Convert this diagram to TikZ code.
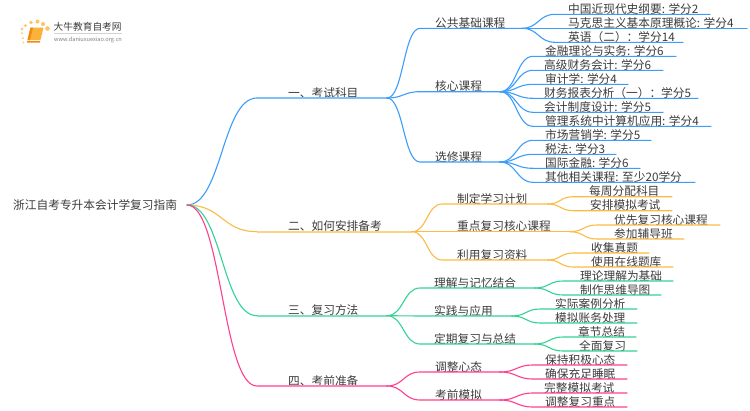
\documentclass[tikz,border=0pt]{standalone}
\usepackage{fontspec}
\setmainfont{Noto Sans CJK SC}
\usetikzlibrary{calc}
\definecolor{cblue}{HTML}{3D9DFB}
\definecolor{corange}{HTML}{FBBB45}
\definecolor{cgreen}{HTML}{35D296}
\definecolor{cpink}{HTML}{FF3F8E}
\definecolor{ctext}{HTML}{3C3C3C}
\definecolor{bookl}{HTML}{FBB23A}
\definecolor{bookd}{HTML}{F08A12}
\tikzset{
  lbl/.style={anchor=base west,inner sep=0pt,text=ctext,font=\fontsize{11.7}{13}\selectfont},
  wire/.style={line width=1.1pt,line cap=round},
  logotxt/.style={anchor=base west,inner sep=0pt,text=ctext},
  sun/.style={fill=corange,draw=none,opacity=.85}
}
% \branch{name}{parent}{start x}{end x}{line y}{text x}{colour}{text}
\newcommand{\branch}[8]{%
  \coordinate (#1-s) at (#3,#5);
  \coordinate (#1-e) at (#4,#5);
  \node[lbl] (#1) at (#6,#5-0.8) {#8};
  \draw[wire,#7] (#2-e) .. controls ($(#2-e)!.5!(#1-s|-#2-e)$) and ($(#2-e|-#1-s)!.5!(#1-s)$) .. (#1-s) -- (#1-e);
}
% thicker, paler trunk under a first-level label
\newcommand{\trunk}[2]{\draw[line width=1.9pt,#2!65] (#1-s) -- (#1-e);}
\begin{document}
\begin{tikzpicture}[x=1pt,y=-1pt]
\useasboundingbox (0,0) rectangle (750,410);
\fill[white] (0,0) rectangle (750,410);
% logo
\foreach \a/\b/\r in {22/33/1,22/29/1.3,25.5/25.5/1.5,31/22.5/1.8,37.5/21.5/2,43/24/2,47.5/28.5/2.3,23/38/1,23.5/42.5/.8}{\fill[sun] (\a,\b) circle (\r);}
\fill[bookl,rounded corners=.8pt] (30.5,27.5) -- (43.5,27.5) -- (40.5,40) -- (27.5,40) -- cycle;
\fill[bookd] (30.5,27.5) -- (33,27.5) -- (30,40) -- (27.5,40) -- cycle;
\draw[white,line width=.6pt] (29.5,40.3) -- (40,40.3);
\fill[bookd,rounded corners=.6pt] (27,40.8) -- (40.5,40.8) -- (40,42.6) -- (27,42.6) -- cycle;
\node[logotxt,font=\fontsize{9.7}{11}\selectfont] (logoa) at (53.5,30.5) {大牛教育自考网};
\draw[gray!35,line width=.4pt] (54,33.5) -- (122,33.5);
\node[logotxt,text=gray,font=\fontsize{5.6}{7}\selectfont] (logob) at (54,41) {www.daniuxuexiao.org.cn};
% root
\node[lbl] (root) at (13,209.3) {浙江自考专升本会计学复习指南};
\coordinate (root-e) at (187,205);
% one
\branch{a}{root}{257}{387}{98}{288}{cblue}{一、考试科目}
\trunk{a}{cblue}
\branch{a1}{a}{420}{522}{28.3}{435}{cblue}{公共基础课程}
\branch{a11}{a1}{555}{710}{14.3}{568}{cblue}{中国近现代史纲要: 学分2}
\branch{a12}{a1}{555}{747}{28.3}{568}{cblue}{马克思主义基本原理概论: 学分4}
\branch{a13}{a1}{555}{683}{42.3}{568}{cblue}{英语（二）：学分14}
\branch{a2}{a}{420}{500}{91.7}{435}{cblue}{核心课程}
\branch{a21}{a2}{533}{676}{56.3}{545}{cblue}{金融理论与实务: 学分6}
\branch{a22}{a2}{533}{663}{70.3}{544}{cblue}{高级财务会计: 学分6}
\branch{a23}{a2}{533}{628}{84.3}{545}{cblue}{审计学: 学分4}
\branch{a24}{a2}{533}{698}{98.3}{544}{cblue}{财务报表分析（一）：学分5}
\branch{a25}{a2}{533}{663}{112.3}{544}{cblue}{会计制度设计: 学分5}
\branch{a26}{a2}{533}{711}{126.3}{545}{cblue}{管理系统中计算机应用: 学分4}
\branch{a3}{a}{420}{500}{162}{435}{cblue}{选修课程}
\branch{a31}{a3}{533}{651}{140.3}{545}{cblue}{市场营销学: 学分5}
\branch{a32}{a3}{533}{616}{154.3}{545}{cblue}{税法: 学分3}
\branch{a33}{a3}{533}{640}{168.3}{545}{cblue}{国际金融: 学分6}
\branch{a34}{a3}{533}{695}{182.3}{545}{cblue}{其他相关课程: 至少20学分}
% two
\branch{b}{root}{257}{412}{231.7}{288}{corange}{二、如何安排备考}
\trunk{b}{corange}
\branch{b1}{b}{442}{548}{204}{457}{corange}{制定学习计划}
\branch{b11}{b1}{573}{672}{196.7}{589}{corange}{每周分配科目}
\branch{b12}{b1}{573}{672}{210.7}{590}{corange}{安排模拟考试}
\branch{b2}{b}{442}{570}{231.7}{457}{corange}{重点复习核心课程}
\branch{b21}{b2}{597}{720}{225}{614}{corange}{优先复习核心课程}
\branch{b22}{b2}{597}{684}{239}{614}{corange}{参加辅导班}
\branch{b3}{b}{442}{548}{260}{457}{corange}{利用复习资料}
\branch{b31}{b3}{573}{649}{253}{591}{corange}{收集真题}
\branch{b32}{b3}{573}{673}{267}{591}{corange}{使用在线题库}
% three
\branch{c}{root}{257}{387}{315.7}{288}{cgreen}{三、复习方法}
\trunk{c}{cgreen}
\branch{c1}{c}{420}{535}{288}{434}{cgreen}{理解与记忆结合}
\branch{c11}{c1}{563}{673}{281}{580}{cgreen}{理论理解为基础}
\branch{c12}{c1}{563}{661}{295}{580}{cgreen}{制作思维导图}
\branch{c2}{c}{420}{512}{316}{434}{cgreen}{实践与应用}
\branch{c21}{c2}{540}{637}{309}{555}{cgreen}{实际案例分析}
\branch{c22}{c2}{540}{637}{323}{555}{cgreen}{模拟账务处理}
\branch{c3}{c}{420}{535}{344}{434}{cgreen}{定期复习与总结}
\branch{c31}{c3}{563}{636}{337}{578}{cgreen}{章节总结}
\branch{c32}{c3}{563}{637}{351}{579}{cgreen}{全面复习}
% four
\branch{d}{root}{257}{387}{386}{288}{cpink}{四、考前准备}
\trunk{d}{cpink}
\branch{d1}{d}{420}{500}{372}{435}{cpink}{调整心态}
\branch{d11}{d1}{533}{627}{365}{545}{cpink}{保持积极心态}
\branch{d12}{d1}{533}{627}{379}{545}{cpink}{确保充足睡眠}
\branch{d2}{d}{420}{500}{400}{435}{cpink}{考前模拟}
\branch{d21}{d2}{533}{627}{393}{544}{cpink}{完整模拟考试}
\branch{d22}{d2}{533}{627}{407}{545}{cpink}{调整复习重点}
\end{tikzpicture}
\end{document}
